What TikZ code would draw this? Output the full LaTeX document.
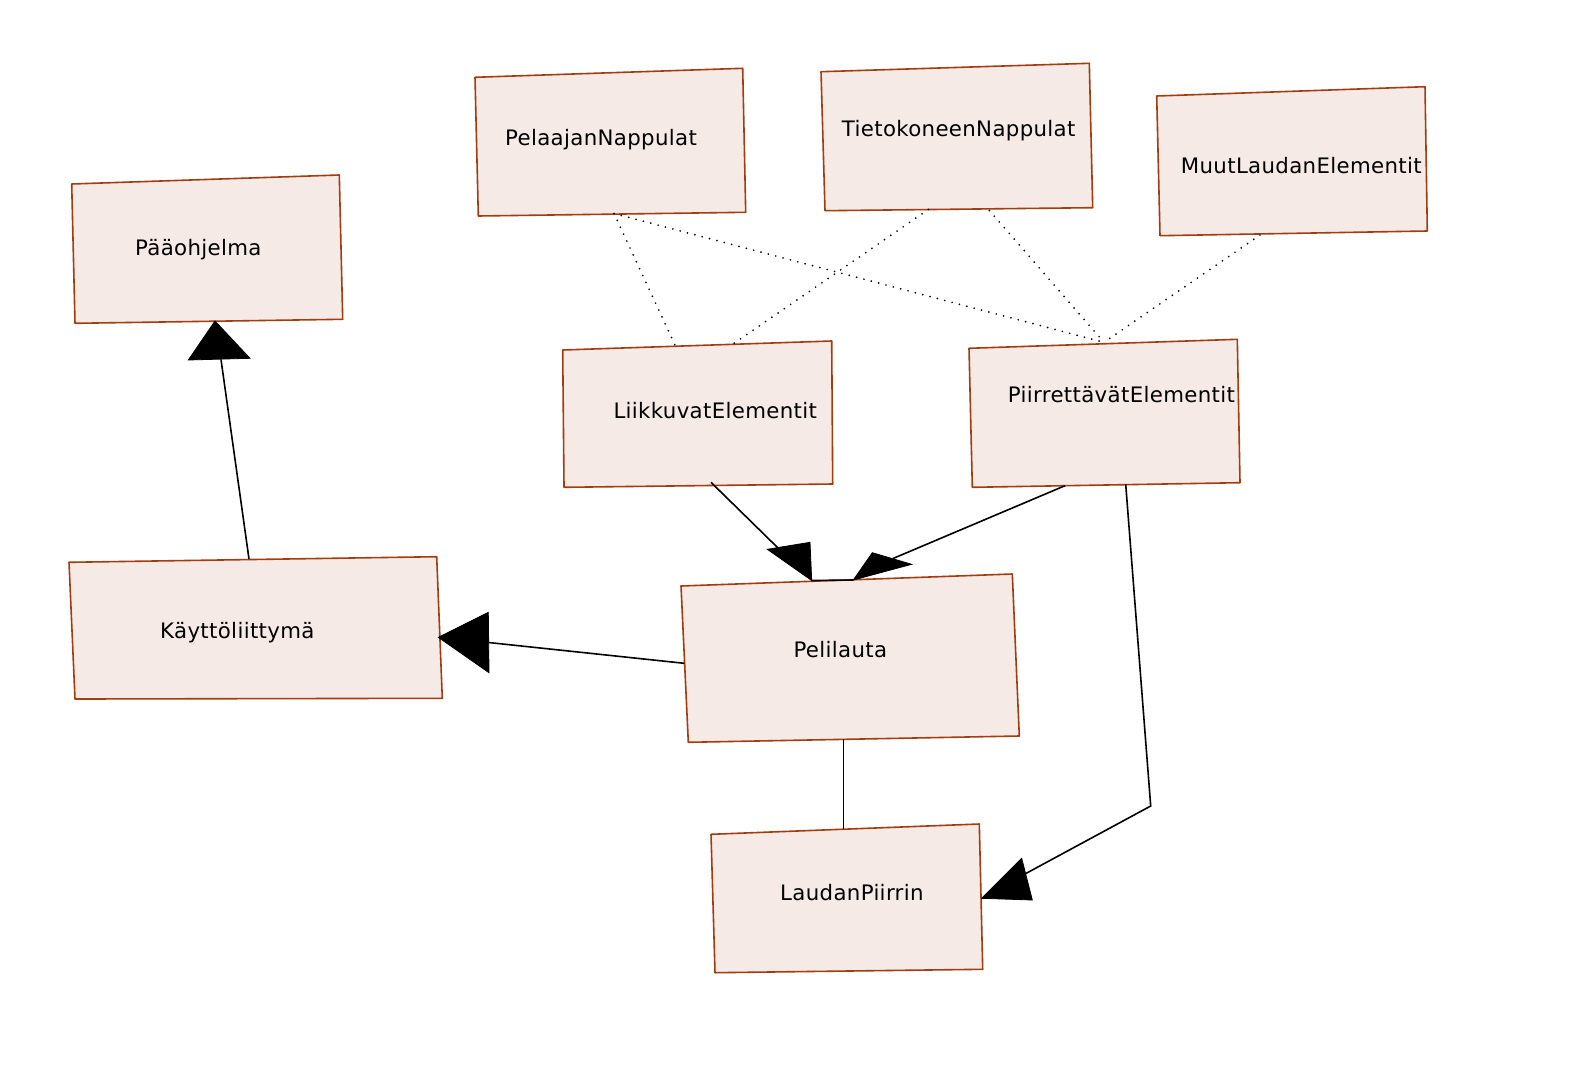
\documentclass[tikz,border=0pt]{standalone}
\usepackage{fontspec}
\setmainfont{DejaVu Sans}[LetterSpace=1.6]
\definecolor{boxfill}{RGB}{245,234,229}
\definecolor{boxline}{RGB}{163,60,14}
\begin{document}
\begin{tikzpicture}[x=1pt,y=-1pt,
  box/.style={draw=boxline, fill=boxfill, line width=1.6pt, line join=round},
  lbl/.style={anchor=base west, inner sep=0pt, font=\fontsize{21.3}{25}\selectfont},
  conn/.style={line width=1.6pt},
  dots/.style={line width=1.9pt, dash pattern=on 0pt off 7.6pt, line cap=round},
  head/.style={fill=black, draw=black, line width=0.8pt, line join=miter}]
\useasboundingbox (0,0) rectangle (1578,1070);

% ---------- boxes ----------
\draw[box] (71.7,184) -- (339.3,175) -- (342.7,319.3) -- (75,323.3) -- cycle;
\node[lbl] (paa) at (135,255) {Pääohjelma};

\draw[box] (475,77.3) -- (742.7,68.3) -- (745.7,212.3) -- (478.3,216) -- cycle;
\node[lbl] (pelaaja) at (505,145.7) {PelaajanNappulat};

\draw[box] (821,71.7) -- (1089.3,63.3) -- (1092.7,207.7) -- (825,210.7) -- cycle;
\node[lbl] (tieto) at (841.7,136) {TietokoneenNappulat};

\draw[box] (1156.7,96) -- (1425,86.7) -- (1427.3,231) -- (1160,235.7) -- cycle;
\node[lbl] (muut) at (1180.7,173.3) {MuutLaudanElementit};

\draw[box] (562.7,350) -- (831.7,341) -- (832.7,484) -- (564,487.3) -- cycle;
\node[lbl] (liik) at (613.3,418.3) {LiikkuvatElementit};

\draw[box] (969,348.3) -- (1237.3,339.3) -- (1240,482.7) -- (972.3,487.3) -- cycle;
\node[lbl] (piir) at (1007.7,402.7) {PiirrettävätElementit};

\draw[box] (69,562.3) -- (436.7,556.7) -- (442.3,698.3) -- (75,699) -- cycle;
\node[lbl] (kayt) at (160,638.3) {Käyttöliittymä};

\draw[box] (681,586) -- (1012.3,574) -- (1019.3,736) -- (688.3,742.3) -- cycle;
\node[lbl] (peli) at (793.3,657.7) {Pelilauta};

\draw[box] (711,834.3) -- (979.3,824) -- (982.7,969.3) -- (715,972.7) -- cycle;
\node[lbl] (laud) at (780,900) {LaudanPiirrin};

% ---------- connector end points ----------
\coordinate (pelB) at (614,213.5);
\coordinate (tietoB1) at (928.3,209.5);
\coordinate (tietoB2) at (989.3,210.5);
\coordinate (muutB) at (1260,235);
\coordinate (liikT1) at (675,345);
\coordinate (liikT2) at (732.3,344.5);
\coordinate (piirT) at (1104,342.3);
\coordinate (liikB) at (711,482.3);
\coordinate (piirB1) at (1065,485.7);
\coordinate (piirB2) at (1125.7,484.3);
\coordinate (bend) at (1150.7,806);
\coordinate (kaytT) at (249,559);
\coordinate (peliL) at (684.3,663.3);
\coordinate (peliB) at (843.3,739.3);
\coordinate (laudT) at (843.3,829.3);

% arrow heads
\coordinate (hPaaTip) at (215,321);
\coordinate (hPaaA) at (188.3,360);
\coordinate (hPaaB) at (250,358.3);
\coordinate (hPaaM) at (221,359.5);

\coordinate (hKayTip) at (438.3,637.3);
\coordinate (hKayA) at (488.3,612.3);
\coordinate (hKayB) at (489,672.7);
\coordinate (hKayM) at (488.5,642.5);

\coordinate (hL1Tip) at (811.7,580.5);
\coordinate (hL1A) at (767.3,549.3);
\coordinate (hL1B) at (810,542.3);
\coordinate (hL1M) at (778,548);

\coordinate (hL2Tip) at (853.3,580);
\coordinate (hL2A) at (872.3,552.7);
\coordinate (hL2B) at (911.7,564.3);
\coordinate (hL2M) at (893,558.5);

\coordinate (hLdTip) at (981.7,898.3);
\coordinate (hLdA) at (1021.7,858.3);
\coordinate (hLdB) at (1032.3,900);
\coordinate (hLdM) at (1024,874.5);

% ---------- dotted connectors ----------
\draw[dots] (pelB) -- (liikT1);
\draw[dots] (pelB) -- (piirT);
\draw[dots] (tietoB1) -- (liikT2);
\draw[dots] (tietoB2) -- (piirT);
\draw[dots] (muutB) -- (piirT);

% ---------- solid connectors ----------
\draw[conn] (kaytT) -- (hPaaM);
\fill[head] (hPaaTip) -- (hPaaA) -- (hPaaB) -- cycle;

\draw[conn] (peliL) -- (hKayM);
\fill[head] (hKayTip) -- (hKayA) -- (hKayB) -- cycle;

\draw[conn] (liikB) -- (hL1M);
\fill[head] (hL1Tip) -- (hL1A) -- (hL1B) -- cycle;

\draw[conn] (piirB1) -- (hL2M);
\fill[head] (hL2Tip) -- (hL2A) -- (hL2B) -- cycle;
\draw[conn] (hL1Tip) -- (hL2Tip);

\draw[conn] (peliB) -- (laudT);

\draw[conn, line join=miter] (piirB2) -- (bend) -- (hLdM);
\fill[head] (hLdTip) -- (hLdA) -- (hLdB) -- cycle;
\end{tikzpicture}
\end{document}
